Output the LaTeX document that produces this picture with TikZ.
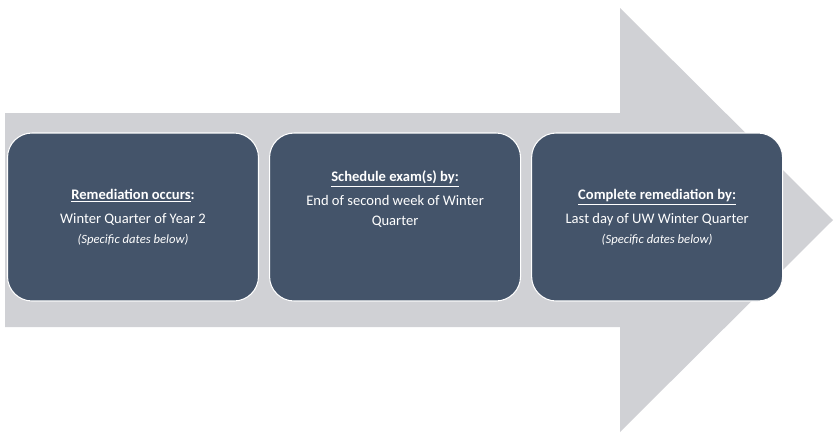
\documentclass[tikz,border=0pt]{standalone}
\usepackage{fontspec}
\setmainfont{Carlito}
\usepackage{tikz}
\usetikzlibrary{positioning}
\definecolor{slate}{HTML}{44546A}
\definecolor{arrowgray}{HTML}{D0D1D5}
\tikzset{stepbox/.style={draw=white,line width=0.6pt,fill=slate,rounded corners=14pt,
  minimum width=251*0.02cm,minimum height=168*0.02cm,text=white,align=center,
  font=\fontsize{8.3pt}{11pt}\selectfont}}
\newcommand{\hd}[1]{\textbf{\underline{#1}}}
\newcommand{\nt}[1]{{\fontsize{7.2pt}{10pt}\selectfont\itshape #1}}
\begin{document}
\begin{tikzpicture}[x=0.02cm,y=-0.02cm]
\useasboundingbox (0,0) rectangle (839,440);
% big arrow
\fill[arrowgray] (5,113) -- (620,113) -- (620,8) -- (833,220) -- (620,432)
  -- (620,327) -- (5,327) -- cycle;
% steps
\node[stepbox] (occurs) at (133,217) {\hd{Remediation occurs}\textbf{:}\\[3pt]
  Winter Quarter of Year 2\\ \nt{(Specific dates below)}};
\node[stepbox,right=10*0.02cm of occurs] (schedule) {\hd{Schedule exam(s) by:}\\[3pt]
  End of second week of Winter\\ Quarter\\[11pt]};
\node[stepbox,right=10*0.02cm of schedule] (complete) {\hd{Complete remediation by:}\\[3pt]
  Last day of UW Winter Quarter\\ \nt{(Specific dates below)}};
\end{tikzpicture}
\end{document}
